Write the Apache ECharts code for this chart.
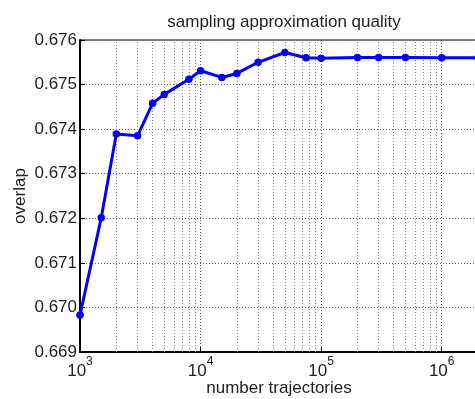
<!DOCTYPE html>
<html><head><meta charset="utf-8">
<script src="https://cdn.jsdelivr.net/npm/echarts@6/dist/echarts.min.js"></script>
<style>html,body{margin:0;padding:0;background:#fff}#c{width:475px;height:399px}</style>
</head><body><div id="c"></div>
<script>
// data
const trajectories = [1000, 1500, 2000, 3000, 4000, 5000, 8000, 10000, 15000, 20000, 30000, 50000, 75000, 100000, 200000, 300000, 500000, 1000000, 2000000];
const overlap = [0.66983, 0.67201, 0.67389, 0.67385, 0.67458, 0.67478, 0.67512, 0.67531, 0.67516, 0.67525, 0.67550, 0.67572, 0.67560, 0.67559, 0.67561, 0.67561, 0.67561, 0.67560, 0.67560];
const xRange = [1000, 2000000];
const yRange = [0.669, 0.676];
const yStep = 0.001;
const minorGridX = [2000,3000,4000,5000,6000,7000,8000,9000,
  20000,30000,40000,50000,60000,70000,80000,90000,
  200000,300000,400000,500000,600000,700000,800000,900000];
const titleText = 'sampling approximation quality';
const xName = 'number trajectories';
const yName = 'overlap';

const FONT = 'Liberation Sans, Arial, Helvetica, sans-serif';
const TXT = '#222';
const chart = echarts.init(document.getElementById('c'), null, {renderer: 'canvas'});
const pts = trajectories.map((t, i) => [t, overlap[i]]);

chart.setOption({
  animation: false,
  backgroundColor: '#fff',
  title: {
    text: titleText, left: 279, top: 9, textAlign: 'center',
    textStyle: {fontFamily: FONT, fontSize: 17, fontWeight: 'normal', color: TXT}
  },
  grid: {left: 80, top: 40, width: 398, height: 312, outerBoundsMode: 'none', containLabel: false,
    show: true, borderColor: '#000', borderWidth: 1, backgroundColor: '#fff'},
  xAxis: {
    type: 'log', logBase: 10, min: xRange[0], max: xRange[1],
    name: xName, nameLocation: 'middle', nameGap: 28, nameMoveOverlap: false,
    nameTextStyle: {fontFamily: FONT, fontSize: 17, color: TXT},
    axisLine: {show: true, lineStyle: {color: '#000', width: 2}},
    axisTick: {show: true, inside: true, length: 5, lineStyle: {color: '#000'}},
    axisLabel: {
      margin: 4,
      formatter: v => {
        const e = Math.log10(v);
        if (Math.abs(e - Math.round(e)) > 1e-6) return '';
        return '{b|10}{s|' + Math.round(e) + '}';
      },
      rich: {
        b: {fontFamily: FONT, fontSize: 17, color: TXT, lineHeight: 24, verticalAlign: 'bottom'},
        s: {fontFamily: FONT, fontSize: 12, color: TXT, lineHeight: 12, verticalAlign: 'top'}
      }
    },
    splitLine: {show: true, lineStyle: {color: '#555', type: [1, 2], width: 1}},
    minorTick: {show: false}
  },
  yAxis: {
    type: 'value', min: yRange[0], max: yRange[1], interval: yStep,
    name: yName, nameLocation: 'middle', nameGap: 51, nameMoveOverlap: false,
    nameTextStyle: {fontFamily: FONT, fontSize: 17, color: TXT},
    axisLine: {show: true, lineStyle: {color: '#000', width: 2}},
    axisTick: {show: true, inside: true, length: 5, lineStyle: {color: '#000'}},
    axisLabel: {margin: 3, fontFamily: FONT, fontSize: 17, color: TXT, formatter: v => v.toFixed(3)},
    splitLine: {show: true, lineStyle: {color: '#666', type: [1, 2], width: 1}}
  },
  series: [
    {
      type: 'line', data: pts, z: 1, symbol: 'none', silent: true,
      lineStyle: {opacity: 0},
      markLine: {
        silent: true, symbol: 'none', label: {show: false}, animation: false,
        lineStyle: {color: '#8a8a8a', type: [1, 2], width: 1},
        emphasis: {disabled: true},
        data: minorGridX.map(v => ({xAxis: v}))
      }
    },
    {
      type: 'line', data: pts, z: 5,
      symbol: 'circle', symbolSize: 7.5,
      lineStyle: {color: '#0000ff', width: 3},
      itemStyle: {color: '#0000ff'}
    }
  ]
});
</script>
</body></html>
